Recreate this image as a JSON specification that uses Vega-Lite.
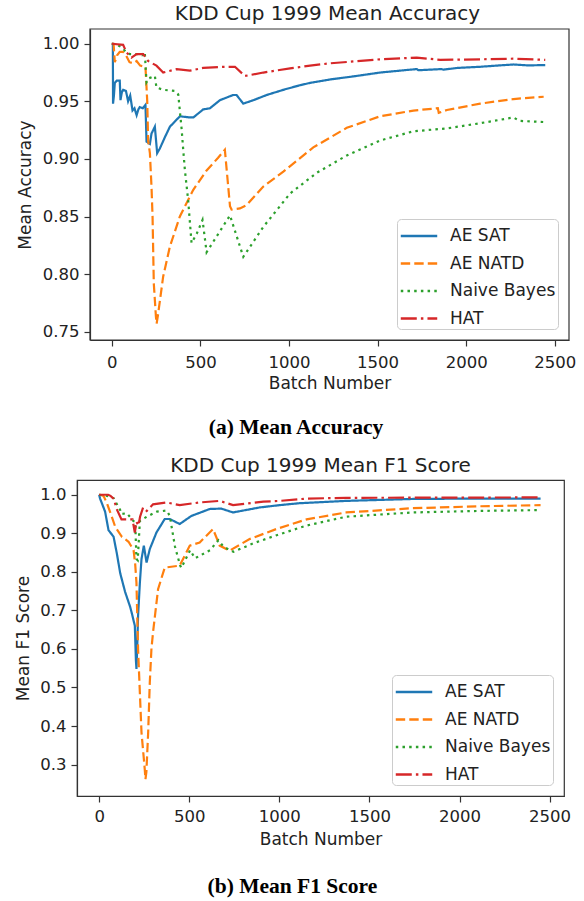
{
  "$schema": "https://vega.github.io/schema/vega-lite/v6.json",
  "background": "white",
  "padding": {"left": 13, "top": 4, "right": 0, "bottom": 0},
  "spacing": 17,
  "columns": 1,
  "align": "none",
  "resolve": {"scale": {"color": "independent", "strokeDash": "independent", "x": "independent", "y": "independent"}, "legend": {"color": "independent", "strokeDash": "independent"}},
  "config": {
    "font": "DejaVu Sans",
    "view": {"stroke": "#333", "strokeWidth": 1.2},
    "axis": {"grid": false, "labelFont": "DejaVu Sans", "titleFont": "DejaVu Sans", "labelFontSize": 16.5, "titleFontSize": 17, "titleFontWeight": "normal", "labelColor": "#222", "titleColor": "#222", "tickColor": "#333", "domainColor": "#333", "tickSize": 6, "tickWidth": 1.2, "domainWidth": 1.2, "labelPadding": 5},
    "title": {"font": "DejaVu Sans", "fontSize": 20, "fontWeight": "normal", "color": "#222"},
    "legend": {"orient": "bottom-right", "offset": 11, "fillColor": "white", "strokeColor": "#ccc", "cornerRadius": 4, "padding": 2, "labelFont": "DejaVu Sans", "labelFontSize": 17, "labelColor": "#222", "symbolType": "M-1.35,0H1.35", "symbolStrokeWidth": 2.4, "symbolSize": 729, "symbolOffset": 5, "labelOffset": 16, "rowPadding": 4.5, "gridAlign": "all", "title": null}
  },
  "datasets": {
    "acc": [
      {"x":0,"y":1.0,"s":"AE SAT"},{"x":6,"y":1.0,"s":"AE SAT"},{"x":7,"y":0.948,"s":"AE SAT"},{"x":12,"y":0.955,"s":"AE SAT"},{"x":17,"y":0.966,"s":"AE SAT"},{"x":28,"y":0.968,"s":"AE SAT"},{"x":45,"y":0.968,"s":"AE SAT"},{"x":49,"y":0.951,"s":"AE SAT"},{"x":57,"y":0.958,"s":"AE SAT"},{"x":64,"y":0.960,"s":"AE SAT"},{"x":80,"y":0.959,"s":"AE SAT"},{"x":92,"y":0.950,"s":"AE SAT"},{"x":104,"y":0.955,"s":"AE SAT"},{"x":117,"y":0.942,"s":"AE SAT"},{"x":128,"y":0.944,"s":"AE SAT"},{"x":140,"y":0.938,"s":"AE SAT"},{"x":150,"y":0.943,"s":"AE SAT"},{"x":158,"y":0.945,"s":"AE SAT"},{"x":175,"y":0.944,"s":"AE SAT"},{"x":190,"y":0.947,"s":"AE SAT"},{"x":196,"y":0.915,"s":"AE SAT"},{"x":215,"y":0.913,"s":"AE SAT"},{"x":224,"y":0.922,"s":"AE SAT"},{"x":243,"y":0.928,"s":"AE SAT"},{"x":256,"y":0.905,"s":"AE SAT"},{"x":271,"y":0.909,"s":"AE SAT"},{"x":300,"y":0.919,"s":"AE SAT"},{"x":328,"y":0.928,"s":"AE SAT"},{"x":384,"y":0.937,"s":"AE SAT"},{"x":441,"y":0.936,"s":"AE SAT"},{"x":460,"y":0.936,"s":"AE SAT"},{"x":516,"y":0.943,"s":"AE SAT"},{"x":554,"y":0.944,"s":"AE SAT"},{"x":610,"y":0.951,"s":"AE SAT"},{"x":685,"y":0.9555,"s":"AE SAT"},{"x":704,"y":0.9555,"s":"AE SAT"},{"x":742,"y":0.948,"s":"AE SAT"},{"x":799,"y":0.951,"s":"AE SAT"},{"x":874,"y":0.9555,"s":"AE SAT"},{"x":968,"y":0.960,"s":"AE SAT"},{"x":1062,"y":0.964,"s":"AE SAT"},{"x":1119,"y":0.966,"s":"AE SAT"},{"x":1232,"y":0.969,"s":"AE SAT"},{"x":1380,"y":0.972,"s":"AE SAT"},{"x":1514,"y":0.975,"s":"AE SAT"},{"x":1650,"y":0.977,"s":"AE SAT"},{"x":1721,"y":0.978,"s":"AE SAT"},{"x":1730,"y":0.977,"s":"AE SAT"},{"x":1860,"y":0.978,"s":"AE SAT"},{"x":1870,"y":0.9775,"s":"AE SAT"},{"x":1950,"y":0.979,"s":"AE SAT"},{"x":2079,"y":0.980,"s":"AE SAT"},{"x":2170,"y":0.981,"s":"AE SAT"},{"x":2267,"y":0.982,"s":"AE SAT"},{"x":2350,"y":0.9812,"s":"AE SAT"},{"x":2446,"y":0.9815,"s":"AE SAT"},
      {"x":0,"y":1.0,"s":"AE NATD"},{"x":10,"y":1.0,"s":"AE NATD"},{"x":17,"y":0.984,"s":"AE NATD"},{"x":30,"y":0.99,"s":"AE NATD"},{"x":45,"y":0.993,"s":"AE NATD"},{"x":64,"y":0.993,"s":"AE NATD"},{"x":80,"y":0.99,"s":"AE NATD"},{"x":100,"y":0.984,"s":"AE NATD"},{"x":120,"y":0.983,"s":"AE NATD"},{"x":140,"y":0.985,"s":"AE NATD"},{"x":160,"y":0.981,"s":"AE NATD"},{"x":190,"y":0.980,"s":"AE NATD"},{"x":200,"y":0.95,"s":"AE NATD"},{"x":205,"y":0.916,"s":"AE NATD"},{"x":215,"y":0.905,"s":"AE NATD"},{"x":224,"y":0.876,"s":"AE NATD"},{"x":230,"y":0.850,"s":"AE NATD"},{"x":237,"y":0.792,"s":"AE NATD"},{"x":249,"y":0.763,"s":"AE NATD"},{"x":253,"y":0.757,"s":"AE NATD"},{"x":262,"y":0.766,"s":"AE NATD"},{"x":290,"y":0.798,"s":"AE NATD"},{"x":328,"y":0.824,"s":"AE NATD"},{"x":384,"y":0.850,"s":"AE NATD"},{"x":459,"y":0.873,"s":"AE NATD"},{"x":535,"y":0.890,"s":"AE NATD"},{"x":600,"y":0.901,"s":"AE NATD"},{"x":638,"y":0.908,"s":"AE NATD"},{"x":667,"y":0.859,"s":"AE NATD"},{"x":676,"y":0.856,"s":"AE NATD"},{"x":723,"y":0.857,"s":"AE NATD"},{"x":761,"y":0.860,"s":"AE NATD"},{"x":855,"y":0.876,"s":"AE NATD"},{"x":968,"y":0.889,"s":"AE NATD"},{"x":1137,"y":0.910,"s":"AE NATD"},{"x":1326,"y":0.927,"s":"AE NATD"},{"x":1514,"y":0.937,"s":"AE NATD"},{"x":1702,"y":0.942,"s":"AE NATD"},{"x":1840,"y":0.944,"s":"AE NATD"},{"x":1845,"y":0.940,"s":"AE NATD"},{"x":1891,"y":0.9425,"s":"AE NATD"},{"x":2079,"y":0.948,"s":"AE NATD"},{"x":2267,"y":0.952,"s":"AE NATD"},{"x":2437,"y":0.954,"s":"AE NATD"},
      {"x":0,"y":1.0,"s":"Naive Bayes"},{"x":30,"y":0.999,"s":"Naive Bayes"},{"x":55,"y":0.997,"s":"Naive Bayes"},{"x":80,"y":0.993,"s":"Naive Bayes"},{"x":102,"y":0.991,"s":"Naive Bayes"},{"x":149,"y":0.991,"s":"Naive Bayes"},{"x":170,"y":0.990,"s":"Naive Bayes"},{"x":186,"y":0.993,"s":"Naive Bayes"},{"x":196,"y":0.9665,"s":"Naive Bayes"},{"x":209,"y":0.970,"s":"Naive Bayes"},{"x":243,"y":0.972,"s":"Naive Bayes"},{"x":252,"y":0.962,"s":"Naive Bayes"},{"x":290,"y":0.960,"s":"Naive Bayes"},{"x":356,"y":0.959,"s":"Naive Bayes"},{"x":375,"y":0.956,"s":"Naive Bayes"},{"x":394,"y":0.926,"s":"Naive Bayes"},{"x":403,"y":0.908,"s":"Naive Bayes"},{"x":412,"y":0.891,"s":"Naive Bayes"},{"x":431,"y":0.864,"s":"Naive Bayes"},{"x":450,"y":0.827,"s":"Naive Bayes"},{"x":479,"y":0.835,"s":"Naive Bayes"},{"x":512,"y":0.847,"s":"Naive Bayes"},{"x":535,"y":0.819,"s":"Naive Bayes"},{"x":667,"y":0.851,"s":"Naive Bayes"},{"x":742,"y":0.815,"s":"Naive Bayes"},{"x":855,"y":0.841,"s":"Naive Bayes"},{"x":1006,"y":0.870,"s":"Naive Bayes"},{"x":1157,"y":0.888,"s":"Naive Bayes"},{"x":1326,"y":0.903,"s":"Naive Bayes"},{"x":1514,"y":0.916,"s":"Naive Bayes"},{"x":1702,"y":0.924,"s":"Naive Bayes"},{"x":1891,"y":0.9265,"s":"Naive Bayes"},{"x":2079,"y":0.931,"s":"Naive Bayes"},{"x":2267,"y":0.936,"s":"Naive Bayes"},{"x":2300,"y":0.933,"s":"Naive Bayes"},{"x":2446,"y":0.932,"s":"Naive Bayes"},
      {"x":0,"y":1.0,"s":"HAT"},{"x":64,"y":0.999,"s":"HAT"},{"x":83,"y":0.9925,"s":"HAT"},{"x":111,"y":0.988,"s":"HAT"},{"x":140,"y":0.991,"s":"HAT"},{"x":177,"y":0.991,"s":"HAT"},{"x":205,"y":0.985,"s":"HAT"},{"x":252,"y":0.981,"s":"HAT"},{"x":290,"y":0.975,"s":"HAT"},{"x":366,"y":0.978,"s":"HAT"},{"x":441,"y":0.9766,"s":"HAT"},{"x":516,"y":0.979,"s":"HAT"},{"x":629,"y":0.980,"s":"HAT"},{"x":695,"y":0.980,"s":"HAT"},{"x":751,"y":0.972,"s":"HAT"},{"x":855,"y":0.975,"s":"HAT"},{"x":1006,"y":0.9786,"s":"HAT"},{"x":1119,"y":0.981,"s":"HAT"},{"x":1232,"y":0.983,"s":"HAT"},{"x":1514,"y":0.9865,"s":"HAT"},{"x":1721,"y":0.988,"s":"HAT"},{"x":1853,"y":0.986,"s":"HAT"},{"x":2079,"y":0.9865,"s":"HAT"},{"x":2267,"y":0.987,"s":"HAT"},{"x":2446,"y":0.986,"s":"HAT"}
    ],
    "f1": [
      {"x":0,"y":1.0,"s":"AE SAT"},{"x":5,"y":0.99,"s":"AE SAT"},{"x":15,"y":0.978,"s":"AE SAT"},{"x":33,"y":0.956,"s":"AE SAT"},{"x":52,"y":0.908,"s":"AE SAT"},{"x":80,"y":0.891,"s":"AE SAT"},{"x":98,"y":0.848,"s":"AE SAT"},{"x":117,"y":0.796,"s":"AE SAT"},{"x":144,"y":0.748,"s":"AE SAT"},{"x":172,"y":0.709,"s":"AE SAT"},{"x":180,"y":0.695,"s":"AE SAT"},{"x":198,"y":0.66,"s":"AE SAT"},{"x":204,"y":0.57,"s":"AE SAT"},{"x":207,"y":0.548,"s":"AE SAT"},{"x":211,"y":0.60,"s":"AE SAT"},{"x":216,"y":0.686,"s":"AE SAT"},{"x":226,"y":0.772,"s":"AE SAT"},{"x":235,"y":0.833,"s":"AE SAT"},{"x":248,"y":0.868,"s":"AE SAT"},{"x":263,"y":0.824,"s":"AE SAT"},{"x":281,"y":0.859,"s":"AE SAT"},{"x":318,"y":0.902,"s":"AE SAT"},{"x":364,"y":0.937,"s":"AE SAT"},{"x":392,"y":0.937,"s":"AE SAT"},{"x":447,"y":0.924,"s":"AE SAT"},{"x":512,"y":0.945,"s":"AE SAT"},{"x":614,"y":0.963,"s":"AE SAT"},{"x":678,"y":0.964,"s":"AE SAT"},{"x":743,"y":0.954,"s":"AE SAT"},{"x":891,"y":0.967,"s":"AE SAT"},{"x":1002,"y":0.973,"s":"AE SAT"},{"x":1112,"y":0.978,"s":"AE SAT"},{"x":1371,"y":0.984,"s":"AE SAT"},{"x":1741,"y":0.989,"s":"AE SAT"},{"x":2100,"y":0.990,"s":"AE SAT"},{"x":2450,"y":0.990,"s":"AE SAT"},
      {"x":0,"y":1.0,"s":"AE NATD"},{"x":20,"y":0.998,"s":"AE NATD"},{"x":26,"y":0.995,"s":"AE NATD"},{"x":43,"y":0.978,"s":"AE NATD"},{"x":70,"y":0.943,"s":"AE NATD"},{"x":89,"y":0.917,"s":"AE NATD"},{"x":126,"y":0.891,"s":"AE NATD"},{"x":163,"y":0.878,"s":"AE NATD"},{"x":191,"y":0.856,"s":"AE NATD"},{"x":200,"y":0.82,"s":"AE NATD"},{"x":207,"y":0.772,"s":"AE NATD"},{"x":216,"y":0.599,"s":"AE NATD"},{"x":235,"y":0.383,"s":"AE NATD"},{"x":253,"y":0.288,"s":"AE NATD"},{"x":257,"y":0.262,"s":"AE NATD"},{"x":262,"y":0.28,"s":"AE NATD"},{"x":272,"y":0.383,"s":"AE NATD"},{"x":281,"y":0.513,"s":"AE NATD"},{"x":290,"y":0.599,"s":"AE NATD"},{"x":299,"y":0.643,"s":"AE NATD"},{"x":327,"y":0.755,"s":"AE NATD"},{"x":364,"y":0.811,"s":"AE NATD"},{"x":447,"y":0.816,"s":"AE NATD"},{"x":503,"y":0.868,"s":"AE NATD"},{"x":558,"y":0.876,"s":"AE NATD"},{"x":632,"y":0.911,"s":"AE NATD"},{"x":669,"y":0.868,"s":"AE NATD"},{"x":724,"y":0.855,"s":"AE NATD"},{"x":835,"y":0.885,"s":"AE NATD"},{"x":983,"y":0.911,"s":"AE NATD"},{"x":1151,"y":0.936,"s":"AE NATD"},{"x":1371,"y":0.954,"s":"AE NATD"},{"x":1741,"y":0.965,"s":"AE NATD"},{"x":2110,"y":0.970,"s":"AE NATD"},{"x":2450,"y":0.973,"s":"AE NATD"},
      {"x":0,"y":1.0,"s":"Naive Bayes"},{"x":43,"y":0.997,"s":"Naive Bayes"},{"x":80,"y":0.991,"s":"Naive Bayes"},{"x":117,"y":0.960,"s":"Naive Bayes"},{"x":124,"y":0.950,"s":"Naive Bayes"},{"x":154,"y":0.952,"s":"Naive Bayes"},{"x":189,"y":0.932,"s":"Naive Bayes"},{"x":200,"y":0.93,"s":"Naive Bayes"},{"x":207,"y":0.833,"s":"Naive Bayes"},{"x":214,"y":0.83,"s":"Naive Bayes"},{"x":226,"y":0.932,"s":"Naive Bayes"},{"x":264,"y":0.943,"s":"Naive Bayes"},{"x":320,"y":0.956,"s":"Naive Bayes"},{"x":375,"y":0.959,"s":"Naive Bayes"},{"x":392,"y":0.945,"s":"Naive Bayes"},{"x":421,"y":0.865,"s":"Naive Bayes"},{"x":449,"y":0.817,"s":"Naive Bayes"},{"x":456,"y":0.81,"s":"Naive Bayes"},{"x":505,"y":0.856,"s":"Naive Bayes"},{"x":532,"y":0.835,"s":"Naive Bayes"},{"x":615,"y":0.856,"s":"Naive Bayes"},{"x":662,"y":0.882,"s":"Naive Bayes"},{"x":690,"y":0.865,"s":"Naive Bayes"},{"x":745,"y":0.852,"s":"Naive Bayes"},{"x":856,"y":0.874,"s":"Naive Bayes"},{"x":985,"y":0.895,"s":"Naive Bayes"},{"x":1151,"y":0.920,"s":"Naive Bayes"},{"x":1371,"y":0.943,"s":"Naive Bayes"},{"x":1741,"y":0.954,"s":"Naive Bayes"},{"x":2110,"y":0.958,"s":"Naive Bayes"},{"x":2433,"y":0.960,"s":"Naive Bayes"},
      {"x":0,"y":1.0,"s":"HAT"},{"x":50,"y":1.0,"s":"HAT"},{"x":63,"y":0.997,"s":"HAT"},{"x":80,"y":0.99,"s":"HAT"},{"x":90,"y":0.975,"s":"HAT"},{"x":100,"y":0.96,"s":"HAT"},{"x":124,"y":0.936,"s":"HAT"},{"x":185,"y":0.936,"s":"HAT"},{"x":198,"y":0.902,"s":"HAT"},{"x":207,"y":0.93,"s":"HAT"},{"x":218,"y":0.92,"s":"HAT"},{"x":227,"y":0.943,"s":"HAT"},{"x":244,"y":0.967,"s":"HAT"},{"x":264,"y":0.958,"s":"HAT"},{"x":299,"y":0.975,"s":"HAT"},{"x":374,"y":0.980,"s":"HAT"},{"x":447,"y":0.973,"s":"HAT"},{"x":558,"y":0.980,"s":"HAT"},{"x":669,"y":0.984,"s":"HAT"},{"x":743,"y":0.973,"s":"HAT"},{"x":911,"y":0.982,"s":"HAT"},{"x":1002,"y":0.984,"s":"HAT"},{"x":1151,"y":0.99,"s":"HAT"},{"x":1371,"y":0.992,"s":"HAT"},{"x":2450,"y":0.993,"s":"HAT"}
    ]
  },
  "concat": [
    {
      "title": {"text": "(a) Mean Accuracy", "orient": "bottom", "font": "Liberation Serif", "fontWeight": "bold", "fontSize": 21.5, "color": "#000", "anchor": "middle", "offset": 25},
      "resolve": {"scale": {"color": "independent", "strokeDash": "independent"}, "legend": {"color": "independent", "strokeDash": "independent"}},
      "vconcat": [
        {
          "title": {"text": "KDD Cup 1999 Mean Accuracy", "offset": 4, "dx": 4.5},
          "width": 492, "height": 311,
          "view": {"stroke": null},
          "layer": [
            {
              "data": {"name": "acc"},
              "mark": {"type": "line", "strokeWidth": 2.2, "clip": true},
              "encoding": {
                "x": {"field": "x", "type": "quantitative", "scale": {"domain": [-123, 2580], "range": [13, 492], "nice": false, "zero": false}, "axis": {"values": [0,500,1000,1500,2000,2500], "title": "Batch Number", "format": "d", "labelPadding": 8, "titlePadding": 5}},
                "y": {"field": "y", "type": "quantitative", "scale": {"domain": [0.7428, 1.0128], "nice": false, "zero": false}, "axis": {"values": [0.75,0.8,0.85,0.9,0.95,1.0], "format": ".2f", "title": "Mean Accuracy", "titlePadding": 8, "offset": -13}},
                "color": {"field": "s", "type": "nominal", "scale": {"domain": ["AE SAT","AE NATD","Naive Bayes","HAT"], "range": ["#1f77b4","#ff7f0e","#2ca02c","#d62728"]}, "legend": {"orient": "bottom-right"}},
                "strokeDash": {"field": "s", "type": "nominal", "scale": {"domain": ["AE SAT","AE NATD","Naive Bayes","HAT"], "range": [[1,0],[9.4,4.1],[2.5,4.2],[16,4.1,2.5,4.1]]}, "legend": {"orient": "bottom-right"}}
              }
            },
            {
              "data": {"values": [{}]},
              "mark": {"type": "rect", "filled": false, "stroke": "#333", "strokeWidth": 1.2},
              "encoding": {
                "x": {"datum": -123, "type": "quantitative"},
                "x2": {"datum": 2580},
                "y": {"datum": 0.7428, "type": "quantitative"},
                "y2": {"datum": 1.0128}
              }
            }
          ]
        }
      ]
    },
    {
      "title": {"text": "(b) Mean F1 Score", "orient": "bottom", "font": "Liberation Serif", "fontWeight": "bold", "fontSize": 21.5, "color": "#000", "anchor": "middle", "offset": 28},
      "resolve": {"scale": {"color": "independent", "strokeDash": "independent"}, "legend": {"color": "independent", "strokeDash": "independent"}},
      "vconcat": [
        {
          "title": {"text": "KDD Cup 1999 Mean F1 Score", "offset": 4},
          "width": 487, "height": 316,
          "data": {"name": "f1"},
          "mark": {"type": "line", "strokeWidth": 2.2, "clip": true},
          "encoding": {
            "x": {"field": "x", "type": "quantitative", "scale": {"domain": [-123, 2580], "nice": false, "zero": false}, "axis": {"values": [0,500,1000,1500,2000,2500], "title": "Batch Number", "format": "d", "labelPadding": 6, "titlePadding": 7}},
            "y": {"field": "y", "type": "quantitative", "scale": {"domain": [0.2184, 1.0382], "nice": false, "zero": false}, "axis": {"values": [0.3,0.4,0.5,0.6,0.7,0.8,0.9,1.0], "format": ".1f", "title": "Mean F1 Score", "titlePadding": 7.5}},
            "color": {"field": "s", "type": "nominal", "scale": {"domain": ["AE SAT","AE NATD","Naive Bayes","HAT"], "range": ["#1f77b4","#ff7f0e","#2ca02c","#d62728"]}, "legend": {"orient": "bottom-right"}},
            "strokeDash": {"field": "s", "type": "nominal", "scale": {"domain": ["AE SAT","AE NATD","Naive Bayes","HAT"], "range": [[1,0],[9.4,4.1],[2.5,4.2],[16,4.1,2.5,4.1]]}, "legend": {"orient": "bottom-right"}}
          }
        }
      ]
    }
  ]
}
